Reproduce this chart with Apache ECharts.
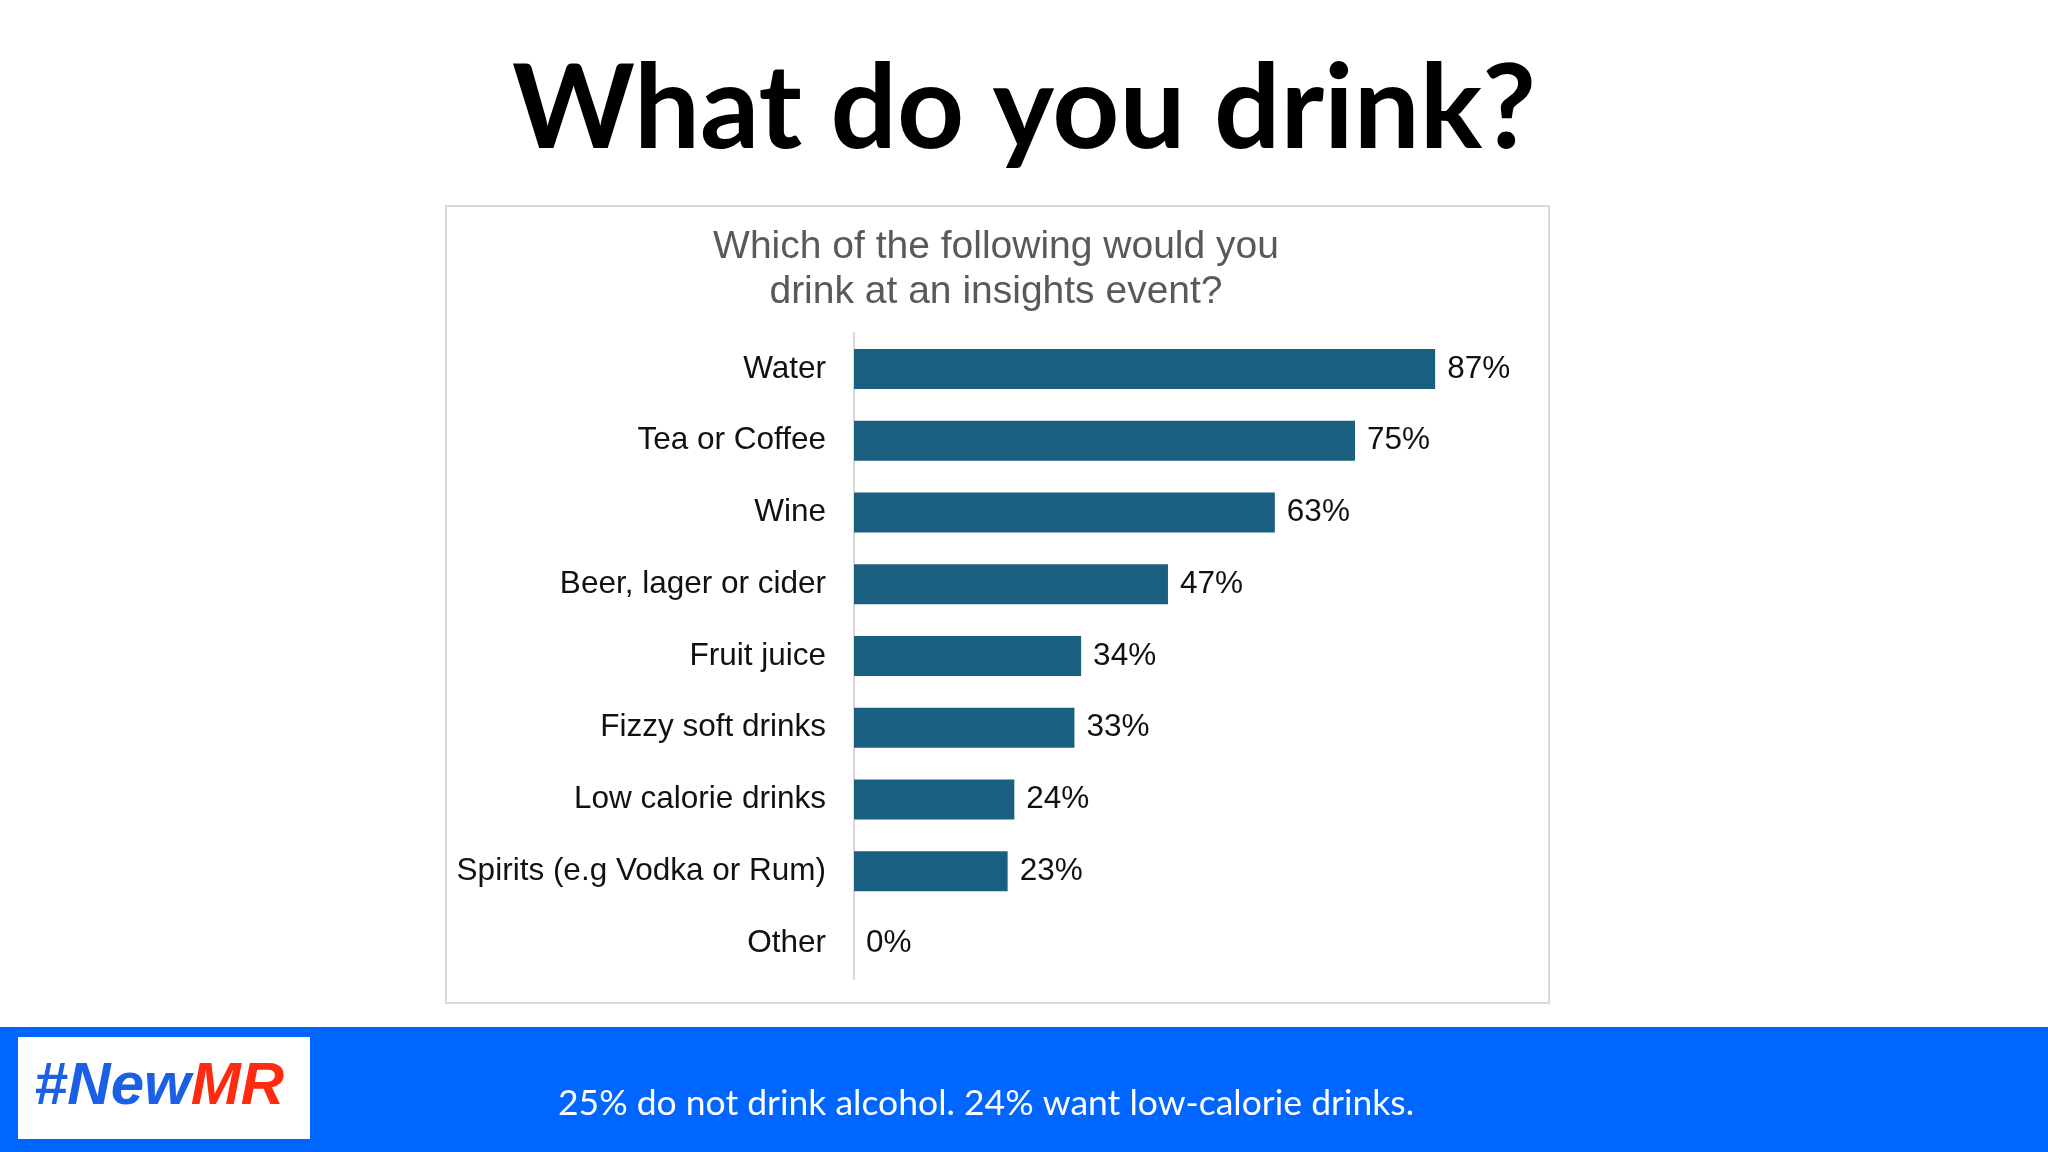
<!DOCTYPE html>
<html><head><meta charset="utf-8">
<script src="https://cdn.jsdelivr.net/npm/echarts@6/dist/echarts.min.js"></script>
<style>html,body{margin:0;padding:0;background:#fff}#c{width:2048px;height:1152px}</style>
</head><body><div id="c"></div>
<script>
const categories = ['Water','Tea or Coffee','Wine','Beer, lager or cider','Fruit juice','Fizzy soft drinks','Low calorie drinks','Spirits (e.g Vodka or Rum)','Other'];
const values = [87,75,63,47,34,33,24,23,0];
const pageTitle = 'What do you drink?';
const chartTitle = 'Which of the following would you\ndrink at an insights event?';
const footerText = '25% do not drink alcohol. 24% want low-calorie drinks.';

const chart = echarts.init(document.getElementById('c'));
chart.setOption({
  animation:false,
  backgroundColor:'#ffffff',
  grid:{left:854, top:333, width:668, height:646, containLabel:false},
  xAxis:{type:'value', min:0, max:100, show:false},
  yAxis:{type:'category', data:categories, inverse:true,
    axisLine:{show:true, lineStyle:{color:'#d9d9d9', width:2}},
    axisTick:{show:false},
    axisLabel:{color:'#111', fontSize:31.5, fontFamily:'Liberation Sans, Arial', margin:28, padding:[10,0,0,0]}
  },
  series:[{type:'bar', data:values, barWidth:40,
    itemStyle:{color:'#1b5f80'},
    label:{show:true, position:'right', distance:12, formatter:'{c}%', color:'#111', fontSize:31.5, fontFamily:'Liberation Sans, Arial', padding:[10,0,0,0]}
  }],
  graphic:[
    {type:'text', left:'center', top:52, z:10, style:{text:pageTitle, font:'bold 117px Lato', fill:'#000'}},
    {type:'rect', shape:{x:446, y:206, width:1103, height:797}, style:{fill:'none', stroke:'#d9d9d9', lineWidth:2}, z:-1},
    {type:'text', x:996, y:270, z:10, style:{text:chartTitle, font:'39px Liberation Sans', fill:'#595959', align:'center', verticalAlign:'middle', lineHeight:45}},
    {type:'rect', shape:{x:0, y:1027, width:2048, height:125}, style:{fill:'#0066ff'}},
    {type:'rect', shape:{x:18, y:1037, width:292, height:102}, style:{fill:'#ffffff'}},
    {type:'text', x:34, y:1087, z:10, style:{text:'{a|#New}{b|MR}', verticalAlign:'middle',
      rich:{a:{font:'italic bold 60px Liberation Sans', fill:'#1a5fe6'}, b:{font:'italic bold 60px Liberation Sans', fill:'#ff2a10'}}}},
    {type:'text', x:986, y:1104, z:10, style:{text:footerText, font:'35.5px Lato', fill:'#ffffff', align:'center', verticalAlign:'middle'}}
  ]
});
</script></body></html>
